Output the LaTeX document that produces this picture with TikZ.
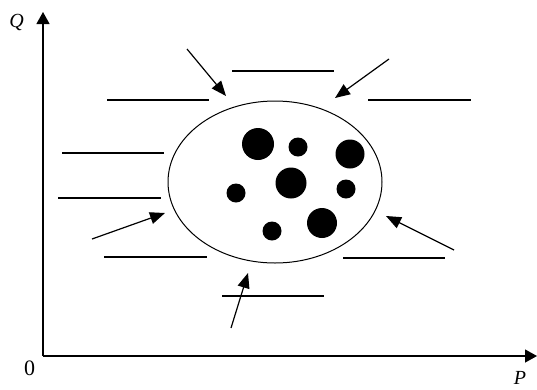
\documentclass[tikz,border=0pt]{standalone}
\usepackage{fontspec}
\setmainfont{Liberation Serif}
\usetikzlibrary{arrows.meta,shapes.geometric}
\begin{document}
\begin{tikzpicture}[x=1pt,y=-1pt,
  axis/.style={line width=1.3pt,-{Triangle[length=12pt,width=13pt]}},
  seg/.style={line width=1.2pt},
  inarrow/.style={line width=1.2pt,-{Triangle[length=15pt,width=12pt]}},
  dot/.style={circle,fill=black,inner sep=0pt,minimum size=#1},
  lab/.style={font=\fontsize{20}{22}\selectfont,inner sep=0pt}]
\useasboundingbox (0,0) rectangle (537,389);
% axes
\coordinate (O) at (43,356);
\coordinate (Qtip) at (43,12);
\coordinate (Ptip) at (537,356);
\draw[axis] (O) -- (Qtip);
\draw[axis] (O) -- (Ptip);
\node[lab] (Q) at (16.5,22) {\textit{Q}};
\node[lab] (P) at (520,378) {\textit{P}};
\node[lab,font=\fontsize{22}{24}\selectfont] (zero) at (29.5,368) {0};
% ellipse
\node[draw,ellipse,line width=1pt,minimum width=214pt,minimum height=162pt,inner sep=0pt] (E) at (275,182) {};
% dots
\node[dot=32pt] (d1) at (258,144) {};
\node[dot=19pt] (d2) at (298,147) {};
\node[dot=29pt] (d3) at (350,154) {};
\node[dot=31pt] (d4) at (291,183) {};
\node[dot=19pt] (d5) at (236,193) {};
\node[dot=19pt] (d6) at (346,189) {};
\node[dot=30pt] (d7) at (322,223) {};
\node[dot=19pt] (d8) at (272,231) {};
% segments
\coordinate (s1a) at (232,71);  \coordinate (s1b) at (334,71);
\coordinate (s2a) at (107,100); \coordinate (s2b) at (209,100);
\coordinate (s3a) at (368,100); \coordinate (s3b) at (471,100);
\coordinate (s4a) at (62,153);  \coordinate (s4b) at (164,153);
\coordinate (s5a) at (58,198);  \coordinate (s5b) at (161,198);
\coordinate (s6a) at (104,257); \coordinate (s6b) at (207,257);
\coordinate (s7a) at (343,258); \coordinate (s7b) at (445,258);
\coordinate (s8a) at (222,296); \coordinate (s8b) at (324,296);
\foreach \i in {1,...,8} \draw[seg] (s\i a) -- (s\i b);
% arrows
\coordinate (a1a) at (187,49);  \coordinate (a1b) at (226,96);
\coordinate (a2a) at (389,59);  \coordinate (a2b) at (335,98);
\coordinate (a3a) at (92,239);  \coordinate (a3b) at (165,213);
\coordinate (a4a) at (454,250); \coordinate (a4b) at (386,216);
\coordinate (a5a) at (231,328); \coordinate (a5b) at (248,273);
\foreach \i in {1,...,5} \draw[inarrow] (a\i a) -- (a\i b);
\end{tikzpicture}
\end{document}
